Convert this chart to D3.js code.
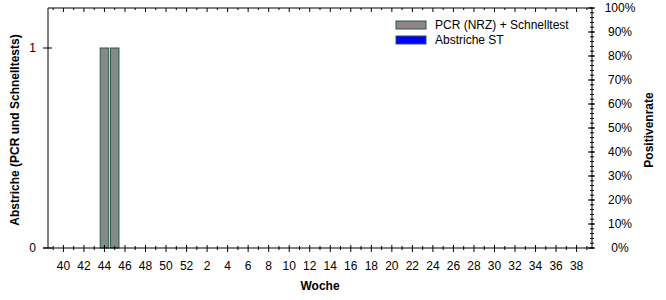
<!DOCTYPE html>
<html>
<head>
<meta charset="utf-8">
<title></title>
<script src="https://d3js.org/d3.v7.min.js"></script>
<style>
body { margin: 0; background: #fff; }
text { font-family: Arial, "Liberation Sans", sans-serif; font-size: 12px; fill: #000; }
.title { font-weight: bold; }
</style>
</head>
<body>
<div id="my_dataviz"></div>
<script type="text/javascript">
// Kalenderwochen (KW 39 bis KW 39 des Folgejahres)
var weeks = [39, 40, 41, 42, 43, 44, 45, 46, 47, 48, 49, 50, 51, 52,
             1, 2, 3, 4, 5, 6, 7, 8, 9, 10, 11, 12, 13, 14, 15, 16, 17, 18, 19, 20,
             21, 22, 23, 24, 25, 26, 27, 28, 29, 30, 31, 32, 33, 34, 35, 36, 37, 38, 39]

// Abstriche PCR (NRZ) + Schnelltest
var pcrSchnell = [0, 0, 0, 0, 0, 1, 1, 0, 0, 0, 0, 0, 0, 0,
                  0, 0, 0, 0, 0, 0, 0, 0, 0, 0, 0, 0, 0, 0, 0, 0, 0, 0, 0, 0,
                  0, 0, 0, 0, 0, 0, 0, 0, 0, 0, 0, 0, 0, 0, 0, 0, 0, 0, 0]
// Abstriche ST
var abstricheST = [0, 0, 0, 0, 0, 0, 0, 0, 0, 0, 0, 0, 0, 0,
                   0, 0, 0, 0, 0, 0, 0, 0, 0, 0, 0, 0, 0, 0, 0, 0, 0, 0, 0, 0,
                   0, 0, 0, 0, 0, 0, 0, 0, 0, 0, 0, 0, 0, 0, 0, 0, 0, 0, 0]

var leftTicks = [0, 1]
var rightTicks = [0, 0.1, 0.2, 0.3, 0.4, 0.5, 0.6, 0.7, 0.8, 0.9, 1]
var seriesNames = ["PCR (NRZ) + Schnelltest", "Abstriche ST"]

var W = 666, H = 300
var margin = {top: 8, right: 74, bottom: 52, left: 48}
var width = W - margin.left - margin.right,
    height = H - margin.top - margin.bottom

var svg = d3.select("#my_dataviz")
  .append("svg")
    .attr("width", W)
    .attr("height", H)

var defs = svg.append("defs")
var pat = defs.append("pattern")
    .attr("id", "dither")
    .attr("width", 2).attr("height", 2)
    .attr("patternUnits", "userSpaceOnUse")
pat.append("rect").attr("width", 2).attr("height", 2).attr("fill", "#908486")
pat.append("rect").attr("width", 1).attr("height", 1).attr("fill", "#828a8a")
pat.append("rect").attr("x", 1).attr("y", 1).attr("width", 1).attr("height", 1).attr("fill", "#828a8a")

var g = svg.append("g")
    .attr("transform", "translate(" + margin.left + "," + margin.top + ")")

var idx = d3.range(weeks.length)
var x = d3.scaleBand()
    .domain(idx)
    .range([0, width])
    .paddingInner(0.17)
    .paddingOuter(0.085)

var y = d3.scaleLinear()
    .domain([0, 1.2])
    .range([height, 0])

var yR = d3.scaleLinear()
    .domain([0, 1])
    .range([height, 0])

function isMajor(i) { return i % 2 === 1 }
function cx(i) { return x(i) + x.bandwidth() / 2 }

// bars
var stacked = d3.stack().keys(["pcr", "st"])(idx.map(function(i) {
  return {i: i, pcr: pcrSchnell[i], st: abstricheST[i]}
}))
var fills = ["url(#dither)", "#0000ff"]
g.append("g")
  .selectAll("g")
  .data(stacked)
  .enter().append("g")
    .attr("fill", function(d, k) { return fills[k] })
    .selectAll("rect")
    .data(function(d) { return d.filter(function(e) { return e[1] > e[0] }) })
    .enter().append("rect")
      .attr("x", function(d) { return x(d.data.i) })
      .attr("y", function(d) { return y(d[1]) })
      .attr("height", function(d) { return y(d[0]) - y(d[1]) })
      .attr("width", x.bandwidth())
      .attr("stroke", "#2b5849")
      .attr("stroke-width", 1)

// bottom axis
var bx = g.append("g").attr("transform", "translate(0," + height + ")")
bx.append("line").attr("x1", -5).attr("x2", width + 2).attr("stroke", "#000")
bx.selectAll("line.tk").data(idx).enter().append("line")
    .attr("class", "tk")
    .attr("x1", cx).attr("x2", cx)
    .attr("y1", function(i) { return isMajor(i) ? -3 : -2 })
    .attr("y2", function(i) { return isMajor(i) ? 4 : 2 })
    .attr("stroke", "#000")
bx.selectAll("text").data(idx.filter(isMajor)).enter().append("text")
    .attr("x", cx)
    .attr("y", 22)
    .attr("text-anchor", "middle")
    .text(function(i) { return weeks[i] })

// top border with ticks
var tx = g.append("g")
tx.append("line").attr("x1", 0).attr("x2", width).attr("stroke", "#000")
tx.selectAll("line.tk").data(idx).enter().append("line")
    .attr("class", "tk")
    .attr("x1", cx).attr("x2", cx)
    .attr("y1", 0)
    .attr("y2", function(i) { return isMajor(i) ? 4 : 2 })
    .attr("stroke", "#000")

// left axis
var ly = g.append("g")
ly.append("line").attr("y1", 0).attr("y2", height).attr("stroke", "#000")
ly.selectAll("line.tk").data(leftTicks).enter().append("line")
    .attr("class", "tk")
    .attr("x1", -5).attr("x2", 4)
    .attr("y1", y).attr("y2", y)
    .attr("stroke", "#000")
ly.selectAll("text").data(leftTicks).enter().append("text")
    .attr("x", -12)
    .attr("y", y)
    .attr("dy", "0.35em")
    .attr("text-anchor", "end")
    .text(function(d) { return d })

// right axis
var minor = d3.range(0, 51).map(function(k) { return k / 50 })
var ry = g.append("g").attr("transform", "translate(" + width + ",0)")
ry.append("line").attr("y1", 0).attr("y2", height).attr("stroke", "#000")
ry.selectAll("line.mn").data(minor).enter().append("line")
    .attr("class", "mn")
    .attr("x1", -2).attr("x2", 2)
    .attr("y1", yR).attr("y2", yR)
    .attr("stroke", "#000")
ry.selectAll("line.mj").data(rightTicks).enter().append("line")
    .attr("class", "mj")
    .attr("x1", -4).attr("x2", 3)
    .attr("y1", yR).attr("y2", yR)
    .attr("stroke", "#000")
ry.selectAll("text").data(rightTicks).enter().append("text")
    .attr("x", 28)
    .attr("y", yR)
    .attr("dy", "0.35em")
    .attr("text-anchor", "middle")
    .text(d3.format(".0%"))

// axis titles
svg.append("text").attr("class", "title")
    .attr("x", margin.left + width / 2)
    .attr("y", 290)
    .attr("text-anchor", "middle")
    .text("Woche")
svg.append("text").attr("class", "title")
    .attr("transform", "translate(19," + (margin.top + height / 2 + 2) + ") rotate(-90)")
    .attr("text-anchor", "middle")
    .text("Abstriche (PCR und Schnelltests)")
svg.append("text").attr("class", "title")
    .attr("transform", "translate(653," + (margin.top + height / 2 + 2) + ") rotate(-90)")
    .attr("text-anchor", "middle")
    .text("Positivenrate")

// legend
var leg = svg.append("g").attr("transform", "translate(396,21)")
var li = leg.selectAll("g").data(seriesNames).enter().append("g")
    .attr("transform", function(d, k) { return "translate(0," + (k * 15) + ")" })
li.append("rect")
    .attr("width", 30).attr("height", 8)
    .attr("fill", function(d, k) { return fills[k] })
    .attr("stroke", "#2b5849")
li.append("text")
    .attr("x", 39).attr("y", 4)
    .attr("dy", "0.35em")
    .text(function(d) { return d })
</script>
</body>
</html>
